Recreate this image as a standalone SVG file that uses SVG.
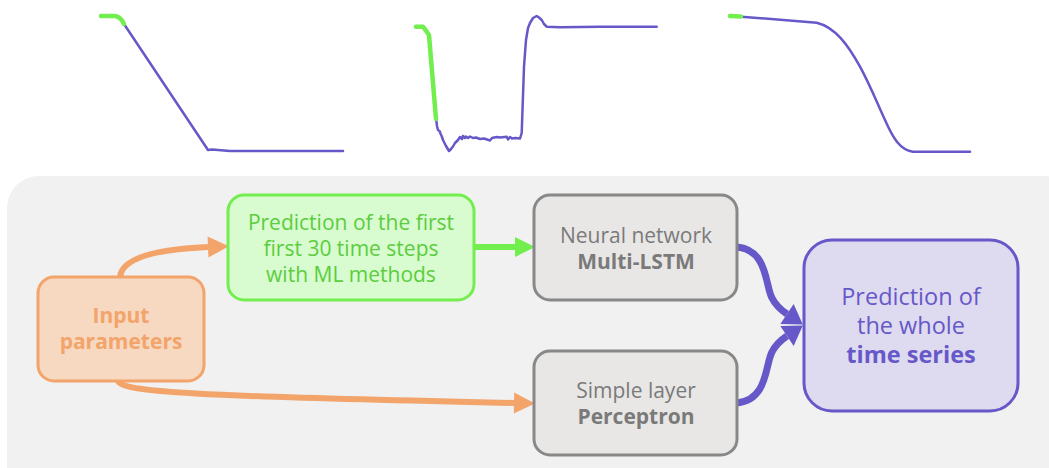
<svg xmlns="http://www.w3.org/2000/svg" width="1049" height="468" viewBox="0 0 1049 468">
<style>
text{font-family:"Open Sans","Noto Sans","Liberation Sans",sans-serif;font-size:21px;text-anchor:middle}
.b{font-weight:bold}
.big{font-size:23.5px}
.node rect{stroke-width:3}
.conn path{fill:none}
.chart path{fill:none;stroke-linecap:round;stroke-linejoin:round}
</style>
<defs>
<marker id="ao" viewBox="0 0 10 10" refX="0" refY="5" markerWidth="21" markerHeight="21" markerUnits="userSpaceOnUse" orient="auto" overflow="visible"><path d="M0,0 L10,5 L0,10 z" fill="#f2a46a"/></marker>
<marker id="ag" viewBox="0 0 10 10" refX="0" refY="5" markerWidth="20" markerHeight="20" markerUnits="userSpaceOnUse" orient="auto" overflow="visible"><path d="M0,0 L10,5 L0,10 z" fill="#72ee4e"/></marker>
<marker id="ap" viewBox="0 0 10 10" refX="0" refY="5" markerWidth="19" markerHeight="24" markerUnits="userSpaceOnUse" orient="auto" overflow="visible" preserveAspectRatio="none"><path d="M0,0 L10,5 L0,10 z" fill="#6658c8"/></marker>
</defs>
<rect width="1049" height="468" fill="#ffffff"/>
<rect x="7" y="176" width="1070" height="330" rx="32" fill="#f1f1f1"/>
<g class="chart">
<path d="M124,24 L208,150 L212,149.5 L230,151 L343,151" stroke="#6658c8" stroke-width="2.5"/>
<path d="M101,16 L115,16 Q121,17 124,24" stroke="#72ee4e" stroke-width="4.5"/>
<path d="M436,118 L437,126 L438,130 L439.5,131 L440.7,134 L442,137 L443,140 L446,146 L449,151 L451,149 L453,146.5 L455,143 L458,140 L460,137 L462,139 L463,136 L465,138 L466,136.5 L468,138 L470,136.5 L473,138 L476,137.5 L480,139 L484,138.5 L487,139.5 L490,140.5 L492,138 L496.7,137 L500,137.5 L506.7,136.7 L508,139.5 L510,137 L512,138.5 L515,138 L520,138.5 L521.7,133 L524,66.7 L526,40 L528,28 L530,23 L533,18 L536.7,16 L539,17.5 L541.7,20 L544,24 L546.7,26.7 L560,27.3 L600,26.8 L656.7,26.7" stroke="#6658c8" stroke-width="2.5"/>
<path d="M416,26.7 L423,26.7 L426.7,31.7 L429,35 L436,119" stroke="#72ee4e" stroke-width="4.5"/>
<path d="M741,16.7 L816.7,22.7 C835,27 848,45 860,66.7 C870,85 878,105 885,120 C893,138 900,150 913,151.7 L970,151.7" stroke="#6658c8" stroke-width="2.5"/>
<path d="M730,16 L741,16.5" stroke="#72ee4e" stroke-width="4.5"/>
</g>
<g class="conn">
<path d="M120,277 C122,257 160,249 208,247" stroke="#f2a46a" stroke-width="6" marker-end="url(#ao)"/>
<path d="M118,381 C122,392 190,396 514,403" stroke="#f2a46a" stroke-width="6" marker-end="url(#ao)"/>
<path d="M474,247 L515,247" stroke="#72ee4e" stroke-width="6" marker-end="url(#ag)"/>
<path d="M737,247 C768,250 765,285 772,298 C776,306 781,310 787,314" stroke="#6658c8" stroke-width="7" marker-end="url(#ap)"/>
<path d="M737,403 C768,400 765,365 772,352 C776,344 781,340 787,336" stroke="#6658c8" stroke-width="7" marker-end="url(#ap)"/>
</g>
<g id="input" class="node">
<rect x="38" y="277" width="166" height="104" rx="16" fill="#f7d8c0" stroke="#f2a46a"/>
<text x="121" y="323" class="b" fill="#f2a46a">Input</text>
<text x="121" y="349" class="b" fill="#f2a46a">parameters</text>
</g>
<g id="ml" class="node">
<rect x="228" y="195" width="246" height="105" rx="16" fill="#d8fbd0" stroke="#72ee4e"/>
<text x="351" y="230" fill="#5ccd3e">Prediction of the first</text>
<text x="351" y="256" fill="#5ccd3e">first 30 time steps</text>
<text x="351" y="282" fill="#5ccd3e">with ML methods</text>
</g>
<g id="lstm" class="node">
<rect x="534" y="195" width="203" height="105" rx="16" fill="#e8e7e5" stroke="#888888"/>
<text x="636" y="243" fill="#7a7a7a">Neural network</text>
<text x="636" y="269" class="b" fill="#7a7a7a">Multi-LSTM</text>
</g>
<g id="perceptron" class="node">
<rect x="534" y="351" width="203" height="104" rx="16" fill="#e8e7e5" stroke="#888888"/>
<text x="636" y="398" fill="#7a7a7a">Simple layer</text>
<text x="636" y="424" class="b" fill="#7a7a7a">Perceptron</text>
</g>
<g id="prediction" class="node">
<rect x="804" y="240" width="214" height="171" rx="28" fill="#dedaf0" stroke="#6658c8"/>
<text x="911" y="305" class="big" fill="#6658c8">Prediction of</text>
<text x="911" y="334" class="big" fill="#6658c8">the whole</text>
<text x="911" y="363" class="big b" fill="#6658c8">time series</text>
</g>
</svg>
